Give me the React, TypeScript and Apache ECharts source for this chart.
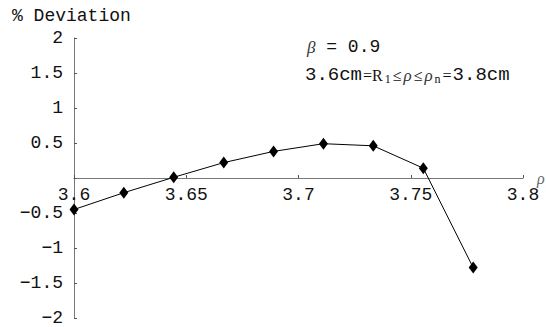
import React, { useEffect, useRef } from 'react';
import * as echarts from 'echarts';

const rhoValues = [3.6, 3.6222, 3.6444, 3.6667, 3.6889, 3.7111, 3.7333, 3.7556, 3.7778];
const deviationValues = [-0.45, -0.21, 0.01, 0.22, 0.38, 0.49, 0.46, 0.14, -1.28];
const xRange = [3.6, 3.8];
const yRange = [-2, 2];
const yAxisTitle = '% Deviation';
const betaLabel = ' = 0.9';
const xAxisTitle = 'ρ';

const MONO = '"Liberation Mono", "DejaVu Sans Mono", monospace';
const SERIF = '"Liberation Serif", "DejaVu Serif", serif';

const GRID_TOP = 38;
const GRID_BOTTOM = 9;
const HEIGHT = 327;

export default function App() {
  const ref = useRef<HTMLDivElement>(null);
  useEffect(() => {
    if (!ref.current) return;
    const chart = echarts.init(ref.current, null, { renderer: 'svg' });
    const data = rhoValues.map((x, i) => [x, deviationValues[i]]);
    const gridH = HEIGHT - GRID_TOP - GRID_BOTTOM;
    // place the x axis where y = 0 lies inside the grid
    const zeroFrac = (0 - yRange[0]) / (yRange[1] - yRange[0]);
    const xOffset = -gridH * zeroFrac;
    chart.setOption({
      animation: false,
      backgroundColor: '#fff',
      grid: { left: 74, right: 23, top: GRID_TOP, bottom: GRID_BOTTOM, containLabel: false, outerBoundsMode: 'none' },
      xAxis: {
        type: 'value',
        min: xRange[0],
        max: xRange[1],
        interval: 0.05,
        offset: xOffset,
        splitLine: { show: false },
        axisLine: { onZero: false, lineStyle: { color: '#777', width: 1 } },
        axisTick: { inside: true, length: 3, lineStyle: { color: '#555' } },
        axisLabel: {
          margin: 8,
          color: '#111',
          fontFamily: MONO,
          fontSize: 18,
          showMinLabel: true,
          showMaxLabel: true,
          formatter: (v: number) => String(parseFloat(v.toFixed(3))),
        },
      },
      yAxis: {
        type: 'value',
        min: yRange[0],
        max: yRange[1],
        interval: 0.5,
        splitLine: { show: false },
        axisLine: { onZero: false, lineStyle: { color: '#777', width: 1 } },
        axisTick: { inside: true, length: 3, lineStyle: { color: '#555' } },
        axisLabel: {
          margin: 11,
          color: '#111',
          fontFamily: MONO,
          fontSize: 18,
          formatter: (v: number) => {
            const r = parseFloat(v.toFixed(3));
            if (r === 0) return '';
            return r < 0 ? '−' + String(Math.abs(r)) : String(r);
          },
        },
      },
      graphic: [
        {
          type: 'text',
          x: 12,
          y: 16,
          style: { text: yAxisTitle, font: `18px ${MONO}`, fill: '#111', align: 'left', verticalAlign: 'middle' },
        },
        {
          type: 'text',
          x: 307,
          y: 47,
          style: {
            text: `{b|β}{m|${betaLabel}}`,
            fill: '#111',
            align: 'left',
            verticalAlign: 'middle',
            rich: {
              b: { fontFamily: SERIF, fontStyle: 'italic', fontSize: 17, fill: '#333' },
              m: { fontFamily: MONO, fontSize: 18, fill: '#111' },
            },
          },
        },
        {
          type: 'text',
          x: 305,
          y: 75,
          style: {
            text: '{m|3.6cm}{s|=R}{sub|1}{s|≤}{g|ρ}{s|≤}{g|ρ}{sub|n}{s|=}{m|3.8cm}',
            fill: '#111',
            align: 'left',
            verticalAlign: 'middle',
            rich: {
              m: { fontFamily: MONO, fontSize: 19, fill: '#111' },
              s: { fontFamily: SERIF, fontSize: 16, fill: '#111', padding: [0, 1, 0, 1] },
              g: { fontFamily: SERIF, fontStyle: 'italic', fontSize: 17, fill: '#333', padding: [0, 1, 0, 1] },
              sub: { fontFamily: SERIF, fontSize: 12, fill: '#111', verticalAlign: 'bottom', padding: [6, 1, 0, 1] },
            },
          },
        },
        {
          type: 'text',
          x: 537,
          y: 178,
          style: { text: xAxisTitle, font: `italic 16px ${SERIF}`, fill: '#666', align: 'left', verticalAlign: 'middle' },
        },
      ],
      series: [
        {
          type: 'line',
          data,
          symbol: 'diamond',
          symbolSize: [9, 12],
          lineStyle: { color: '#000', width: 1 },
          itemStyle: { color: '#000' },
        },
      ],
    });
    return () => chart.dispose();
  }, []);
  return <div ref={ref} style={{ position: 'fixed', left: 0, top: 0, width: 546, height: 327 }} />;
}
